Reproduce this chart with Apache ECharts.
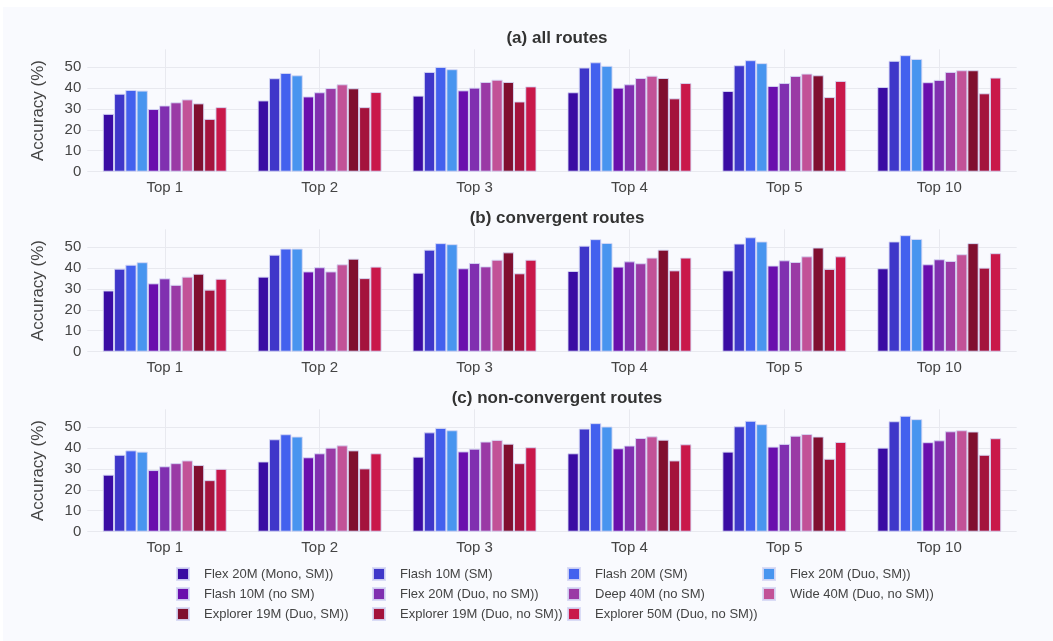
<!DOCTYPE html>
<html>
<head>
<meta charset="utf-8">
<script src="https://cdn.jsdelivr.net/npm/echarts@6/dist/echarts.min.js"></script>
<style>
  html, body { margin: 0; padding: 0; background: #ffffff; }
  #chart { width: 1053px; height: 641px; }
</style>
</head>
<body>
<div id="chart"></div>
<script>
// Top-k cut-offs shared by every panel
const categories = ['Top 1', 'Top 2', 'Top 3', 'Top 4', 'Top 5', 'Top 10'];

// Models, in legend order
const models = [
  'Flex 20M (Mono, SM))', 'Flash 10M (SM)', 'Flash 20M (SM)', 'Flex 20M (Duo, SM))',
  'Flash 10M (no SM)', 'Flex 20M (Duo, no SM))', 'Deep 40M (no SM)', 'Wide 40M (Duo, no SM))',
  'Explorer 19M (Duo, SM))', 'Explorer 19M (Duo, no SM))', 'Explorer 50M (Duo, no SM))'
];

const colors = [
  '#3a0ca3', '#3f37c9', '#4361ee', '#4895ef',
  '#6a0fad', '#8030b0', '#9a3aa5', '#c25297',
  '#800f2f', '#a4133c', '#c9184a'
];

const panelTitles = ['(a) all routes', '(b) convergent routes', '(c) non-convergent routes'];

// Accuracy (%) per model (rows) for Top 1, 2, 3, 4, 5, 10 (columns)
const allRoutes = [
  [27.6, 34.0, 36.3, 37.9, 38.5, 40.4],
  [37.2, 44.6, 47.6, 49.7, 50.8, 52.9],
  [39.0, 47.1, 50.0, 52.2, 53.2, 55.6],
  [38.7, 46.0, 48.9, 50.5, 51.8, 53.8],
  [29.9, 35.9, 38.8, 40.1, 40.9, 42.7],
  [31.6, 37.9, 40.1, 41.7, 42.3, 43.8],
  [33.1, 39.9, 42.8, 44.7, 45.7, 47.6],
  [34.5, 41.7, 43.9, 45.8, 46.8, 48.4],
  [32.6, 39.8, 42.8, 44.7, 46.0, 48.4],
  [25.2, 30.8, 33.5, 35.0, 35.6, 37.4],
  [30.8, 38.0, 40.7, 42.3, 43.3, 44.9]
];

const convergentRoutes = [
  [29.2, 35.8, 37.7, 38.5, 38.8, 39.8],
  [39.6, 46.3, 48.7, 50.6, 51.6, 52.6],
  [41.5, 49.2, 51.8, 53.7, 54.6, 55.6],
  [42.7, 49.2, 51.3, 51.9, 52.6, 53.8],
  [32.6, 38.3, 39.8, 40.6, 41.1, 41.7],
  [35.0, 40.3, 42.3, 43.1, 43.6, 44.1],
  [31.9, 38.3, 40.7, 42.2, 42.8, 43.3],
  [35.8, 41.7, 43.9, 44.9, 45.5, 46.5],
  [37.2, 44.4, 47.4, 48.7, 49.7, 51.8],
  [29.6, 35.1, 37.4, 38.8, 39.5, 40.1],
  [34.8, 40.6, 43.9, 44.9, 45.5, 47.0]
];

const nonConvergentRoutes = [
  [27.2, 33.5, 35.8, 37.4, 38.2, 40.1],
  [36.7, 44.1, 47.4, 49.2, 50.3, 52.7],
  [38.8, 46.5, 49.5, 51.8, 52.9, 55.3],
  [38.2, 45.4, 48.4, 50.2, 51.3, 53.7],
  [29.4, 35.5, 38.3, 39.8, 40.6, 42.7],
  [31.2, 37.4, 39.6, 41.1, 41.9, 43.6],
  [32.7, 40.1, 43.0, 44.7, 45.8, 47.9],
  [34.0, 41.2, 43.8, 45.5, 46.6, 48.4],
  [31.8, 38.8, 42.0, 43.9, 45.4, 47.8],
  [24.6, 30.2, 32.7, 34.0, 34.8, 36.7],
  [30.0, 37.4, 40.3, 41.7, 42.8, 44.6]
];

const yTicks = [0, 10, 20, 30, 40, 50];

const panels = [allRoutes, convergentRoutes, nonConvergentRoutes];
const FONT = '"Liberation Sans", Arial, Helvetica, sans-serif';
const textColor = '#444444';
const gridColor = '#e8e9ef';

const panelTop = [49.3, 229.3, 409.3];
const panelHeight = 122.4;
const gridLeft = 87.3;
const gridRight = 36.3;
const yMax = 58.4;

const grids = [], xAxes = [], yAxes = [], titles = [], series = [];

panels.forEach((panel, p) => {
  grids.push({ left: gridLeft, right: gridRight, top: panelTop[p], height: panelHeight, containLabel: false });

  titles.push({
    text: panelTitles[p],
    left: (gridLeft + 1053 - gridRight) / 2,
    textAlign: 'center',
    top: panelTop[p] - 24,
    textStyle: { fontFamily: FONT, fontSize: 17, fontWeight: 'bold', color: '#333333' }
  });

  xAxes.push({
    type: 'category',
    gridIndex: p,
    data: categories,
    boundaryGap: true,
    axisLine: { show: false },
    axisTick: { show: false, alignWithLabel: true },
    axisLabel: { color: textColor, fontFamily: FONT, fontSize: 15, margin: 9 },
    splitLine: { show: true, alignWithLabel: true, lineStyle: { color: gridColor, width: 1 } }
  });

  yAxes.push({
    type: 'value',
    gridIndex: p,
    min: yTicks[0],
    max: yMax,
    interval: yTicks[1] - yTicks[0],
    name: 'Accuracy (%)',
    nameLocation: 'middle',
    nameRotate: 90,
    nameGap: 40,
    nameTextStyle: { color: textColor, fontFamily: FONT, fontSize: 17 },
    axisLine: { show: false },
    axisTick: { show: false },
    axisLabel: {
      color: textColor, fontFamily: FONT, fontSize: 15, margin: 6,
      showMaxLabel: false,
      formatter: v => (yTicks.indexOf(v) >= 0 ? String(v) : '')
    },
    splitLine: { show: true, showMaxLine: false, lineStyle: { color: gridColor, width: 1 } }
  });

  panel.forEach((values, i) => {
    series.push({
      type: 'bar',
      name: models[i],
      xAxisIndex: p,
      yAxisIndex: p,
      data: values,
      barGap: '0%',
      barCategoryGap: '20%',
      itemStyle: { color: colors[i], borderColor: 'rgba(214,216,245,0.9)', borderWidth: 1 },
      emphasis: { disabled: true }
    });
  });
});

// Legend: four columns, three rows (row-major model order)
const legendLeft = [176, 372, 567, 762];
const legends = legendLeft.map((left, c) => ({
  orient: 'vertical',
  left: left,
  top: 567,
  padding: 0,
  itemWidth: 12,
  itemHeight: 12,
  itemGap: 6,
  icon: 'rect',
  selectedMode: false,
  data: models.filter((m, i) => i % 4 === c),
  textStyle: { color: textColor, fontFamily: FONT, fontSize: 13, lineHeight: 12, padding: [0, 0, 0, 10] }
}));

const chart = echarts.init(document.getElementById('chart'), null, { renderer: 'canvas' });
chart.setOption({
  backgroundColor: '#ffffff',
  animation: false,
  color: colors,
  graphic: [{
    type: 'rect', z: -10, silent: true,
    shape: { x: 3, y: 7, width: 1050, height: 634 },
    style: { fill: '#f9fafe' }
  }],
  title: titles,
  legend: legends,
  grid: grids,
  xAxis: xAxes,
  yAxis: yAxes,
  series: series
});
</script>
</body>
</html>
